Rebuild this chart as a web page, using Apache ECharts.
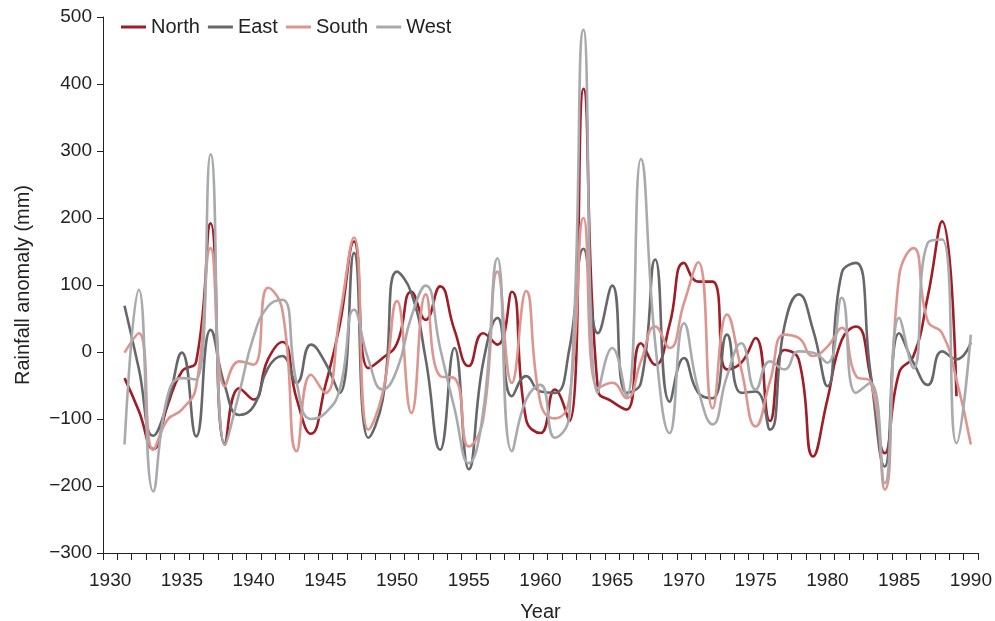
<!DOCTYPE html>
<html><head><meta charset="utf-8">
<script src="https://cdn.jsdelivr.net/npm/echarts@6/dist/echarts.min.js"></script>
<style>html,body{margin:0;padding:0;background:#fff}#c{width:995px;height:621px}</style>
</head><body><div id="c"></div>
<script>
const years = [1931,1932,1933,1934,1935,1936,1937,1938,1939,1940,
  1941,1942,1943,1944,1945,1946,1947,1948,1949,1950,
  1951,1952,1953,1954,1955,1956,1957,1958,1959,1960,
  1961,1962,1963,1964,1965,1966,1967,1968,1969,1970,
  1971,1972,1973,1974,1975,1976,1977,1978,1979,1980,
  1981,1982,1983,1984,1985,1986,1987,1988,1989,1990];

const north = [-39,-88,-145,-80,-29,-14,192,-138,-54,-71,
  -11,15,-70,-122,-50,40,165,-24,-9,13,
  90,48,98,33,-21,28,11,90,-101,-121,
  -56,-103,393,-56,-74,-86,13,-19,41,133,
  105,105,-26,-16,21,-103,3,-11,-156,-71,
  18,38,-36,-151,-31,-6,83,195,-66,null];

const east = [69,-25,-125,-76,-1,-126,33,-51,-94,-81,
  -24,-6,-46,11,-16,-61,148,-128,-71,120,
  88,-11,-146,6,-175,-16,51,-66,-36,-59,
  -61,3,154,28,99,-61,-46,138,-74,-9,
  -61,-69,26,-61,-59,-116,38,86,33,-51,
  118,133,-30,-171,28,-16,-49,1,-11,14];

const south = [-1,28,-146,-101,-86,-51,155,-51,-14,-19,
  96,63,-148,-34,-61,53,171,-116,-61,76,
  -91,86,-36,-39,-141,-101,120,-46,91,-76,
  -99,-71,200,-54,-46,-69,-14,38,6,73,
  134,-84,56,-26,-111,-44,26,21,-6,8,
  36,-36,-44,-205,113,155,46,28,-41,-138];

const west = [-138,93,-208,-66,-39,-41,295,-138,-61,23,
  68,78,-46,-100,-91,-56,63,-11,-56,-26,
  53,99,6,-84,-166,-90,140,-148,-71,-49,
  -128,-96,481,-61,6,-66,288,13,-121,43,
  -56,-108,-36,13,-56,-14,-26,1,-1,-16,
  81,-61,-46,-196,51,-24,163,168,-136,26];

const seriesNames = ['North','East','South','West'];
const xLabelYears = [1930,1935,1940,1945,1950,1955,1960,1965,1970,1975,1980,1985,1990];

const colors = ['#9f1d26','#66676a','#dc958f','#a9aaad'];
const FONT = "'Liberation Sans', Arial, sans-serif";

const tickMarks = [];
for (let v = 1929.5; v <= 1990.5; v += 1) tickMarks.push(v);

function pairs(vals){
  const out = [];
  years.forEach((y,i)=>{ if (vals[i] !== null && vals[i] !== undefined) out.push([y, vals[i]]); });
  return out;
}
const allVals = [north, east, south, west];

const chart = echarts.init(document.getElementById('c'), null, {renderer:'canvas'});
chart.setOption({
  backgroundColor:'#ffffff',
  animation:false,
  color: colors,
  textStyle:{fontFamily:FONT},
  legend:{
    left:116, top:12,
    icon:'rect',
    itemWidth:25, itemHeight:3, itemGap:8,
    textStyle:{fontFamily:FONT, fontSize:20, color:'#222'},
    data: seriesNames
  },
  grid:{left:103, right:17, top:17, bottom:68, containLabel:false, outerBoundsMode:'none'},
  xAxis:{
    type:'value', min:1929.5, max:1990.5,
    name:'Year', nameLocation:'middle', nameGap:49,
    nameTextStyle:{fontFamily:FONT, fontSize:20, color:'#222'},
    axisLine:{show:true, onZero:false, lineStyle:{color:'#222', width:1}},
    axisTick:{show:true, length:7, inside:false, customValues:tickMarks, lineStyle:{color:'#222'}},
    axisLabel:{customValues:xLabelYears, fontFamily:FONT, fontSize:19, color:'#222', margin:18,
      formatter:(v)=>String(Math.round(v))},
    splitLine:{show:false}
  },
  yAxis:{
    type:'value', min:-300, max:500, interval:100,
    name:'Rainfall anomaly (mm)', nameLocation:'middle', nameGap:70, nameRotate:90,
    nameTextStyle:{fontFamily:FONT, fontSize:20, color:'#222'},
    axisLine:{show:true, lineStyle:{color:'#222', width:1}},
    axisTick:{show:true, length:6, lineStyle:{color:'#222'}},
    axisLabel:{fontFamily:FONT, fontSize:19, color:'#222', margin:11,
      formatter:(v)=> v < 0 ? '\u2212' + Math.abs(v) : String(v)},
    splitLine:{show:false}
  },
  series: seriesNames.map((n,i)=>({
    name:n, type:'line', smooth:0.5, symbol:'none', showSymbol:false,
    lineStyle:{width:2.6, color:colors[i]},
    itemStyle:{color:colors[i]},
    data: pairs(allVals[i])
  }))
});
</script></body></html>
